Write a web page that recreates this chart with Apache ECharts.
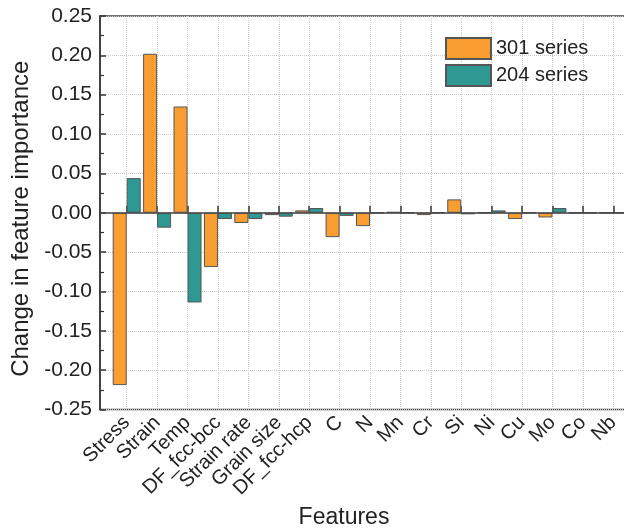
<!DOCTYPE html>
<html>
<head>
<meta charset="utf-8">
<script src="https://cdn.jsdelivr.net/npm/echarts@6/dist/echarts.min.js"></script>
<style>html,body{margin:0;padding:0;background:#fff;}#chart{width:624px;height:529px;}</style>
</head>
<body>
<div id="chart"></div>
<script>
const categories = ['Stress','Strain','Temp','DF_fcc-bcc','Strain rate','Grain size','DF_fcc-hcp','C','N','Mn','Cr','Si','Ni','Cu','Mo','Co','Nb'];
const series301 = [-0.219, 0.202, 0.135, -0.069, -0.013, -0.003, 0.003, -0.031, -0.017, 0.001, -0.003, 0.017, 0, -0.008, -0.006, 0, 0];
const series204 = [0.044, -0.019, -0.114, -0.008, -0.008, -0.005, 0.006, -0.004, 0, 0, 0, -0.002, 0.003, 0, 0.006, 0, 0];
const yMin = -0.25, yMax = 0.25, yStep = 0.05;

const FONT = 'Liberation Sans, Arial, sans-serif';
const chart = echarts.init(document.getElementById('chart'), null, {renderer: 'canvas'});
const option = {
  backgroundColor: '#fff',
  textStyle: {fontFamily: FONT},
  grid: [
    {left: 111.5, right: -4.5, top: 16, bottom: 119.5, outerBoundsMode: 'none', containLabel: false},
    {left: 100, right: -4.5, top: 16, bottom: 119.5, outerBoundsMode: 'none', containLabel: false,
     show: true, borderColor: '#444', borderWidth: 1.5, backgroundColor: 'transparent'}
  ],
  legend: {
    orient: 'vertical', left: 445, top: 37, padding: 0,
    itemWidth: 45, itemHeight: 21, itemGap: 4, icon: 'rect',
    textStyle: {fontSize: 20, color: '#222', fontFamily: FONT},
    data: ['301 series', '204 series']
  },
  xAxis: [
    {
      type: 'category', gridIndex: 0, data: categories,
      axisLine: {show: false},
      axisTick: {show: true, inside: true, alignWithLabel: true, length: 7, lineStyle: {color: '#333', width: 1.5}},
      axisLabel: {rotate: 45, fontSize: 20, color: '#222', margin: 10, interval: 0, fontFamily: FONT},
      splitLine: {show: true, alignWithLabel: true, lineStyle: {color: '#ccc', type: 'dotted', width: 1}},
      name: 'Features', nameLocation: 'middle', nameGap: 94,
      nameTextStyle: {fontSize: 23, color: '#222', padding: [0, 52, 0, 0], fontFamily: FONT}
    },
    {
      type: 'value', gridIndex: 1, min: 0, max: 1, z: 5,
      axisLine: {show: true, onZero: true, lineStyle: {color: '#444', width: 1.5}},
      axisTick: {show: false}, axisLabel: {show: false}, splitLine: {show: false}
    }
  ],
  yAxis: [
    {type: 'value', gridIndex: 0, min: yMin, max: yMax, interval: yStep, show: false},
    {
      type: 'value', gridIndex: 1, min: yMin, max: yMax, interval: yStep,
      axisLine: {show: true, lineStyle: {color: '#333', width: 1.5}},
      axisTick: {show: true, inside: true, length: 6, lineStyle: {color: '#333', width: 1.5}},
      minorTick: {show: true, splitNumber: 2, length: 4, lineStyle: {color: '#333', width: 1.2}},
      axisLabel: {fontSize: 21, color: '#222', margin: 8, fontFamily: FONT, formatter: v => v.toFixed(2)},
      splitLine: {show: true, lineStyle: {color: '#ccc', type: 'dotted', width: 1}},
      name: 'Change in feature importance', nameLocation: 'middle', nameGap: 64,
      nameTextStyle: {fontSize: 24, color: '#222', fontFamily: FONT, padding: [0, 12, 0, 0]}
    }
  ],
  series: [
    {
      name: '301 series', type: 'bar', xAxisIndex: 0, yAxisIndex: 0,
      data: series301, barWidth: 14, barGap: '0%',
      itemStyle: {color: '#FB9E32', borderColor: '#555', borderWidth: 1}
    },
    {
      name: '204 series', type: 'bar', xAxisIndex: 0, yAxisIndex: 0,
      data: series204, barWidth: 14, barGap: '0%',
      itemStyle: {color: '#2E9893', borderColor: '#555', borderWidth: 1}
    }
  ]
};
chart.setOption(option);
</script>
</body>
</html>
